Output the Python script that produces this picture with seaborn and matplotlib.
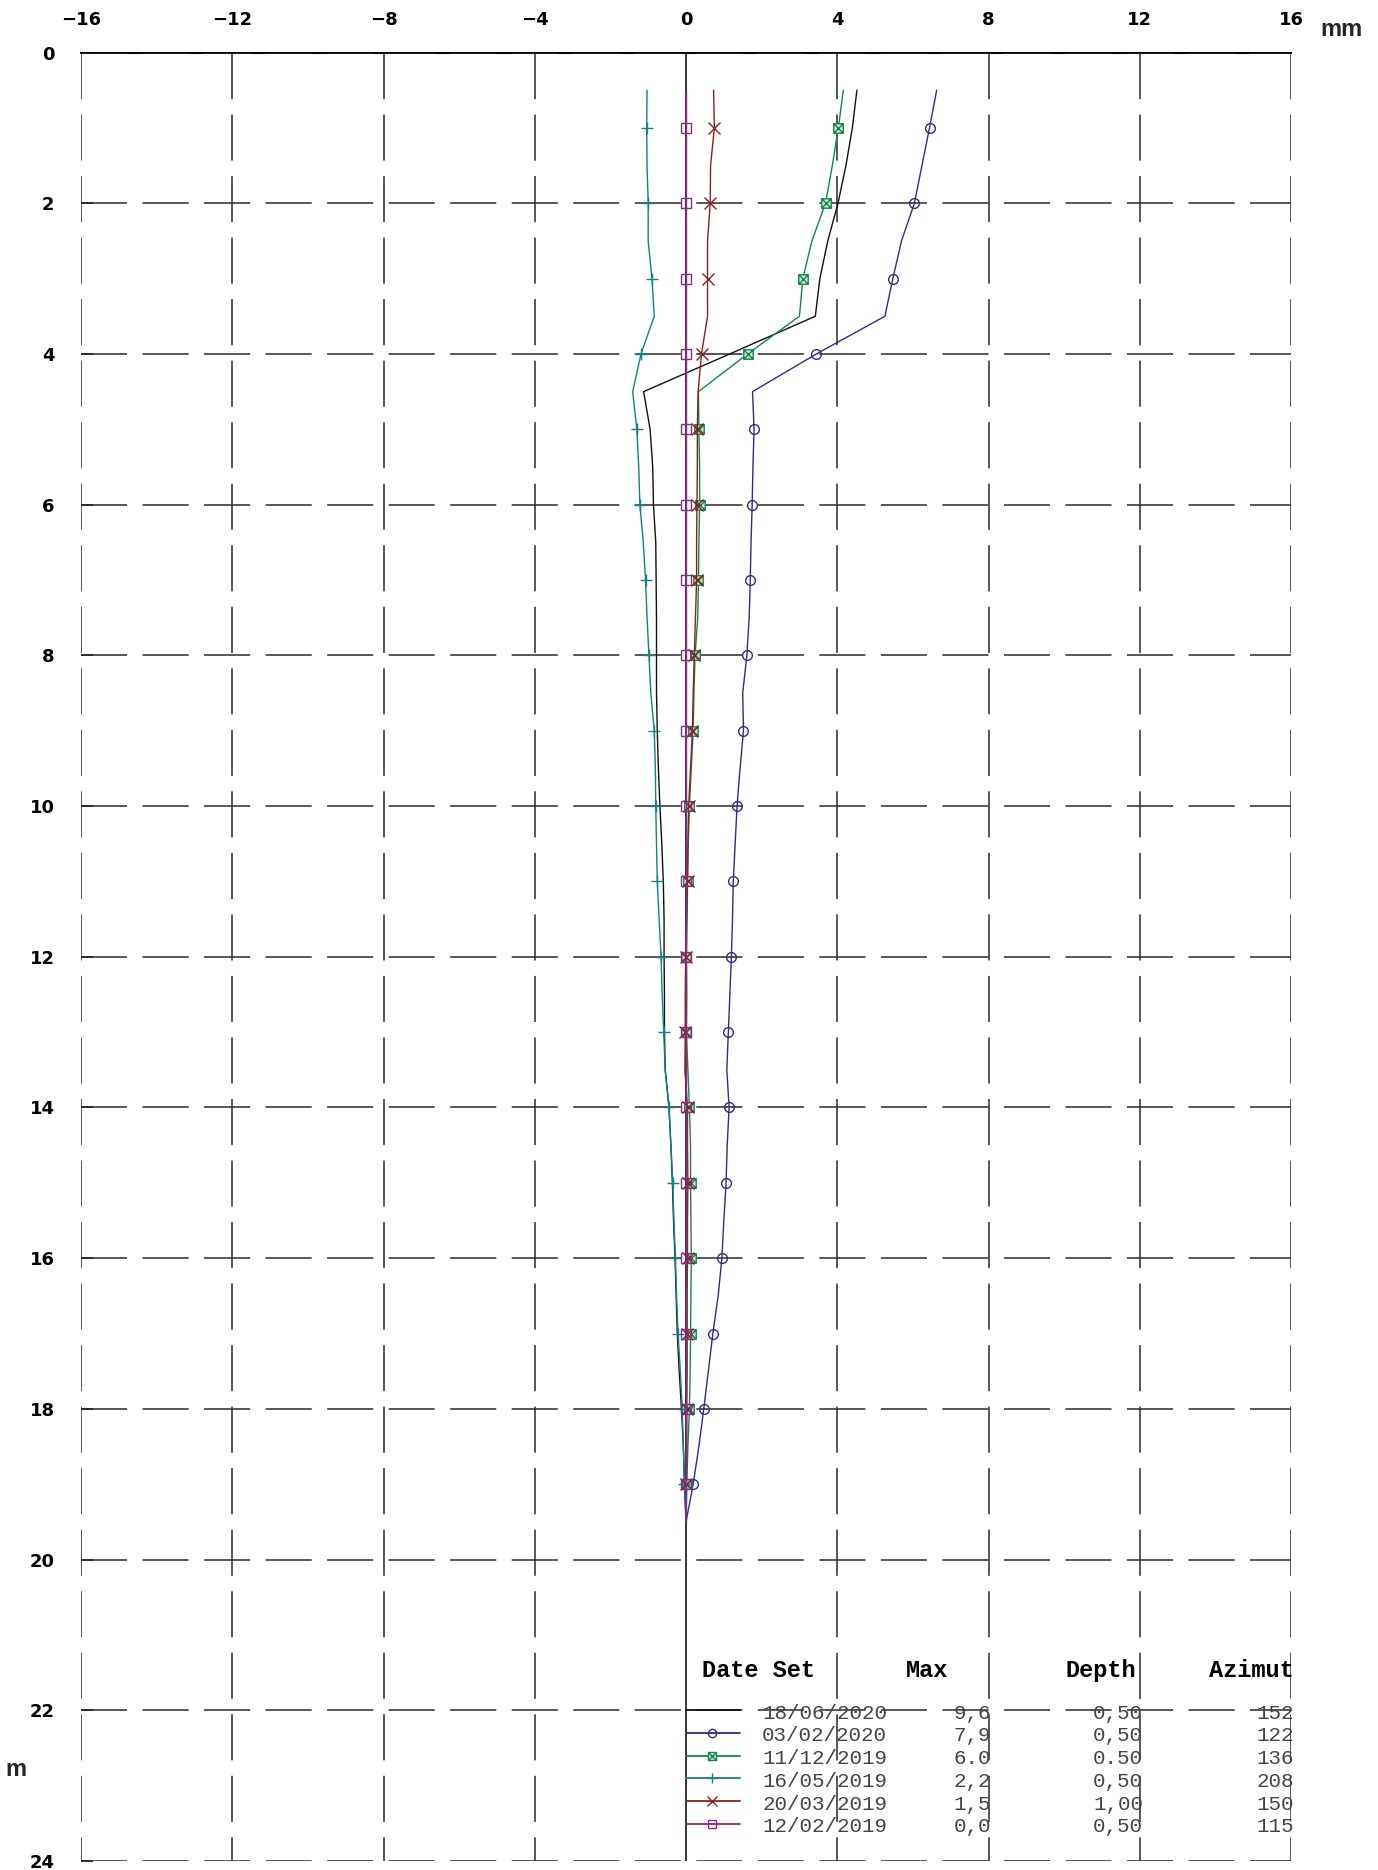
import matplotlib
matplotlib.use("Agg")
import matplotlib.pyplot as plt
import seaborn as sns
import numpy as np
import pandas as pd
from matplotlib.path import Path

sns.set_theme(style="white")
plt.rcParams["font.family"] = ["DejaVu Sans"]
plt.rcParams["lines.scale_dashes"] = False

# ---------------- data ----------------
depths = [0.5, 1.0, 1.5, 2.0, 2.5, 3.0, 3.5, 4.0, 4.5, 5.0, 5.5, 6.0, 6.5,
          7.0, 7.5, 8.0, 8.5, 9.0, 9.5, 10.0, 10.5, 11.0, 11.5, 12.0, 12.5,
          13.0, 13.5, 14.0, 14.5, 15.0, 15.5, 16.0, 16.5, 17.0, 17.5, 18.0,
          18.5, 19.0, 19.5]

d_18062020 = [4.52, 4.40, 4.23, 4.02, 3.75, 3.54, 3.42, 1.16, -1.12, -0.95,
              -0.88, -0.86, -0.80, -0.79, -0.78, -0.78, -0.78, -0.76, -0.73,
              -0.69, -0.64, -0.60, -0.58, -0.58, -0.57, -0.57, -0.55, -0.45,
              -0.40, -0.36, -0.33, -0.29, -0.26, -0.23, -0.18, -0.12, -0.07,
              -0.04, 0.0]
d_03022020 = [6.63, 6.44, 6.24, 6.04, 5.70, 5.47, 5.26, 3.45, 1.76, 1.80,
              1.77, 1.75, 1.72, 1.70, 1.67, 1.61, 1.50, 1.52, 1.43, 1.35,
              1.30, 1.25, 1.23, 1.20, 1.16, 1.12, 1.08, 1.14, 1.09, 1.06,
              1.00, 0.95, 0.85, 0.71, 0.59, 0.47, 0.34, 0.19, 0.0]
d_11122019 = [4.16, 4.03, 3.87, 3.69, 3.33, 3.09, 3.00, 1.63, 0.33, 0.34,
              0.36, 0.36, 0.34, 0.33, 0.31, 0.24, 0.21, 0.19, 0.14, 0.09,
              0.06, 0.04, 0.03, 0.01, 0.02, 0.01, 0.05, 0.09, 0.12, 0.12,
              0.13, 0.14, 0.13, 0.12, 0.11, 0.09, 0.05, 0.02, 0.0]
d_16052019 = [-1.03, -1.04, -1.03, -1.00, -1.00, -0.90, -0.84, -1.19, -1.41,
              -1.30, -1.25, -1.22, -1.13, -1.07, -1.03, -0.98, -0.93, -0.84,
              -0.81, -0.80, -0.78, -0.76, -0.71, -0.66, -0.63, -0.59, -0.55,
              -0.45, -0.40, -0.35, -0.32, -0.28, -0.25, -0.21, -0.15, -0.10,
              -0.07, -0.04, 0.0]
d_20032019 = [0.73, 0.75, 0.65, 0.64, 0.57, 0.57, 0.57, 0.41, 0.32, 0.30,
              0.30, 0.29, 0.28, 0.28, 0.25, 0.22, 0.19, 0.17, 0.12, 0.07,
              0.05, 0.04, 0.01, -0.01, -0.02, -0.02, -0.03, 0.04, 0.04, 0.05,
              0.04, 0.04, 0.03, 0.03, 0.03, 0.02, 0.02, 0.01, 0.0]
d_12022019 = [0.0, 0.0, 0.0, 0.0, 0.0, 0.0, 0.0, 0.0, 0.0, 0.0, 0.0, 0.0,
              0.0, 0.0, 0.0, 0.0, 0.0, 0.0, 0.0, 0.0, 0.0, 0.0, 0.0, 0.0,
              0.0, 0.0, 0.0, 0.0, 0.0, 0.0, 0.0, 0.0, 0.0, 0.0, 0.0, 0.0,
              0.0, 0.0, 0.0]

dates = ["18/06/2020", "03/02/2020", "11/12/2019", "16/05/2019",
         "20/03/2019", "12/02/2019"]
max_vals = ["9,6", "7,9", "6.0", "2,2", "1,5", "0,0"]
max_depths = ["0,50", "0,50", "0.50", "0,50", "1,00", "0,50"]
azimuths = ["152", "122", "136", "208", "150", "115"]

x_ticks = [-16, -12, -8, -4, 0, 4, 8, 12, 16]
y_ticks = [0, 2, 4, 6, 8, 10, 12, 14, 16, 18, 20, 22, 24]

# ---------------- styles ----------------
boxx = Path([(-1, -1), (1, -1), (1, 1), (-1, 1), (-1, -1),
             (-1, -1), (1, 1), (-1, 1), (1, -1)],
            [Path.MOVETO, Path.LINETO, Path.LINETO, Path.LINETO, Path.CLOSEPOLY,
             Path.MOVETO, Path.LINETO, Path.MOVETO, Path.LINETO])

series = [
    (d_18062020, "#111111", None, 0, "none"),
    (d_03022020, "#2e2e88", "o", 7.0, "none"),
    (d_11122019, "#13884a", boxx, 6.8, "#cfe9d9"),
    (d_16052019, "#138282", "+", 9.0, "none"),
    (d_20032019, "#8c1f1f", "x", 9.0, "none"),
    (d_12022019, "#8a2a8a", "s", 6.5, "none"),
]

marker_idx = [i for i, d in enumerate(depths) if float(d).is_integer()]

fig = plt.figure(figsize=(13.78, 18.70), dpi=100)
ax = fig.add_axes([81 / 1378, 1 - 1861 / 1870, 1210 / 1378, 1808.5 / 1870])
ax.set_xlim(-16, 16)
ax.set_ylim(24, 0)
ax.set_facecolor("white")

grid_kw = dict(color="#2a2a2a", lw=1.1, dashes=(33.2, 11.1), zorder=1)
for gx in x_ticks:
    if gx == 0:
        continue
    ax.plot([gx, gx], [0, 24], **grid_kw)
for gy in y_ticks:
    ax.plot([-16, 16], [gy, gy], **grid_kw)
ax.plot([0, 0], [0, 24], color="black", lw=1.1, zorder=2)

for vals, col, mk, ms, mfc in series:
    df = pd.DataFrame({"disp": vals, "depth": depths})
    kw = dict(color=col, lw=1.0, zorder=3)
    if mk is not None:
        kw.update(marker=mk, markersize=ms, markevery=marker_idx,
                  markerfacecolor=mfc, markeredgecolor=col, markeredgewidth=1.0)
    sns.lineplot(data=df, x="disp", y="depth", sort=False, estimator=None,
                 orient="y", legend=False, ax=ax, **kw)

ax.set_xlabel("")
ax.set_ylabel("")
for s in ["left", "right", "bottom"]:
    ax.spines[s].set_visible(False)
ax.spines["top"].set_color("black")
ax.spines["top"].set_linewidth(1.4)
ax.spines["top"].set_zorder(0.5)

ax.xaxis.tick_top()
ax.set_xticks(x_ticks)
ax.set_yticks(y_ticks)
ax.tick_params(axis="x", which="both", top=True, bottom=False, direction="in",
               length=0, pad=17, labelsize=13, labelcolor="black")
ax.tick_params(axis="y", which="both", left=True, direction="in",
               length=8.6, width=1.1, color="black", pad=19, labelsize=13,
               labelcolor="black")
for lab in ax.get_xticklabels() + ax.get_yticklabels():
    lab.set_fontweight("bold")

fig.text(1342 / 1378, 1 - 30 / 1870, "mm", ha="center", va="center",
         fontsize=17, fontweight="bold", family=["Liberation Sans", "DejaVu Sans"])
fig.text(16 / 1378, 1 - 1770 / 1870, "m", ha="center", va="center",
         fontsize=17, fontweight="bold", family=["Liberation Sans", "DejaVu Sans"])

# ---------------- legend table ----------------
mono = ["Liberation Mono", "DejaVu Sans Mono"]
head_y = 21.47
ax.text(0.41, head_y, "Date Set", ha="left", va="center", fontsize=17,
        fontweight="bold", family=mono, color="black", zorder=5)
ax.text(6.38, head_y, "Max", ha="center", va="center", fontsize=17,
        fontweight="bold", family=mono, color="black", zorder=5)
ax.text(11.9, head_y, "Depth", ha="right", va="center", fontsize=17,
        fontweight="bold", family=mono, color="black", zorder=5)
ax.text(16.07, head_y, "Azimut", ha="right", va="center", fontsize=17,
        fontweight="bold", family=mono, color="black", zorder=5)

for i, (vals, col, mk, ms, mfc) in enumerate(series):
    ly = 22.0 + 0.301 * i
    ax.plot([0.0, 1.43], [ly, ly], color=col, lw=1.3, zorder=4)
    if mk is not None:
        ax.plot([0.7], [ly], marker=mk, markersize=ms * 0.85, color=col,
                markerfacecolor=mfc, markeredgecolor=col, markeredgewidth=1.0,
                linestyle="none", zorder=4)
    ty = ly + 0.04
    tkw = dict(va="center", fontsize=15, family=mono, color="#444444", zorder=5)
    ax.text(2.01, ty, dates[i], ha="left", **tkw)
    ax.text(8.07, ty, max_vals[i], ha="right", **tkw)
    ax.text(12.09, ty, max_depths[i], ha="right", **tkw)
    ax.text(16.08, ty, azimuths[i], ha="right", **tkw)

fig.savefig("out.png", dpi=100, facecolor="white")
